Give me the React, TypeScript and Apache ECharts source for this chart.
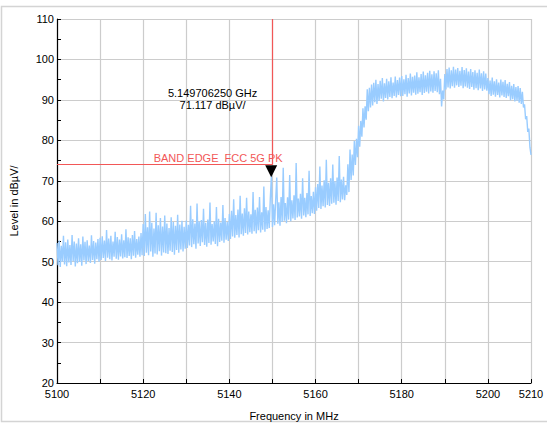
import React, { useEffect, useRef } from "react";
import * as echarts from "echarts";

// Frequency sweep (MHz) – one level reading every 0.25 MHz
const freqStart = 5100;
const freqStep = 0.25;

// Levels in dBµV, grouped per 10 MHz
const lv5100 = [54.6, 49.1, 55.2, 48.7, 53.9, 50.0, 56.4, 49.3, 54.8, 48.9, 55.5, 49.8, 54.1, 49.2, 56.6, 50.1, 55.0, 48.8, 54.5, 49.6, 55.8, 49.9, 54.3, 49.0, 56.2, 50.3, 54.9, 49.4, 55.3, 50.2, 54.0, 49.7, 56.5, 50.4, 55.1, 49.5, 54.7, 50.6, 55.6, 50.0];
const lv5110 = [55.9, 50.4, 56.3, 50.9, 55.2, 50.2, 57.8, 51.0, 55.7, 50.6, 56.4, 50.3, 55.0, 51.2, 57.4, 50.7, 56.1, 50.5, 55.5, 51.3, 56.8, 50.8, 55.3, 51.1, 58.0, 50.9, 56.0, 51.4, 55.8, 50.6, 56.6, 51.5, 57.6, 51.0, 55.6, 51.7, 56.2, 51.2, 57.1, 51.6];
const lv5120 = [59.3, 51.4, 61.8, 52.2, 58.5, 51.6, 62.4, 52.5, 59.6, 51.2, 58.2, 52.0, 62.1, 51.8, 59.0, 52.6, 60.8, 51.5, 58.7, 52.3, 61.4, 52.1, 59.4, 51.9, 58.3, 52.7, 61.0, 52.4, 59.8, 51.7, 58.9, 52.9, 61.6, 52.2, 59.2, 53.0, 60.1, 52.5, 58.6, 53.2];
const lv5130 = [60.2, 53.4, 59.1, 54.0, 63.8, 53.6, 60.5, 54.3, 59.4, 53.2, 64.4, 54.5, 59.9, 53.9, 60.3, 54.8, 63.1, 54.1, 59.6, 53.7, 60.4, 54.6, 64.6, 54.2, 59.3, 55.0, 60.0, 54.4, 63.5, 53.8, 60.6, 54.9, 59.7, 55.2, 64.0, 54.7, 60.8, 55.4, 59.8, 55.1];
const lv5140 = [61.8, 55.6, 62.6, 56.2, 65.4, 55.9, 61.5, 56.6, 62.9, 56.0, 66.3, 56.8, 61.9, 56.4, 63.2, 57.1, 65.8, 56.7, 62.4, 57.3, 61.7, 56.9, 67.2, 57.5, 62.8, 57.0, 63.4, 57.8, 66.0, 57.2, 62.2, 57.9, 68.6, 57.4, 63.5, 58.1, 62.7, 58.3, 65.6, 71.1];
const lv5150 = [58.6, 64.2, 59.0, 65.3, 70.8, 59.4, 64.7, 58.9, 66.0, 59.8, 73.2, 60.1, 64.5, 59.5, 65.9, 60.4, 71.4, 60.0, 65.2, 60.7, 66.4, 60.3, 74.4, 60.9, 65.6, 61.2, 66.8, 60.6, 70.6, 61.4, 65.8, 61.0, 67.0, 61.7, 72.5, 61.3, 66.2, 62.0, 67.3, 61.8];
const lv5160 = [68.4, 62.6, 69.2, 63.3, 73.5, 63.0, 68.8, 63.7, 70.1, 63.4, 75.2, 64.0, 69.5, 63.8, 70.6, 64.3, 74.0, 64.6, 69.9, 64.1, 70.8, 65.0, 76.1, 64.7, 70.3, 65.4, 71.0, 65.2, 68.9, 66.5, 74.1, 67.2, 77.7, 70.2, 76.5, 71.3, 79.8, 73.9, 80.4, 75.8];
const lv5170 = [83.6, 78.4, 84.8, 80.9, 87.9, 83.2, 88.4, 85.1, 92.6, 87.2, 93.0, 88.1, 93.8, 88.6, 94.2, 89.4, 95.0, 89.0, 93.9, 89.8, 94.7, 90.3, 95.4, 89.6, 94.1, 90.5, 95.2, 90.1, 94.6, 90.7, 95.6, 90.4, 94.3, 91.0, 95.8, 90.6, 94.9, 91.2, 95.5, 90.9];
const lv5180 = [95.9, 91.0, 95.1, 91.4, 96.2, 90.8, 95.4, 91.6, 96.5, 91.1, 95.7, 91.8, 96.0, 91.3, 96.8, 91.5, 95.6, 91.9, 96.4, 91.2, 97.0, 91.7, 96.1, 92.0, 96.7, 91.6, 97.2, 92.1, 96.3, 91.8, 97.1, 92.2, 96.6, 91.9, 97.3, 91.4, 95.2, 88.4, 92.3, 90.1];
const lv5190 = [96.4, 92.6, 97.6, 93.1, 98.0, 92.8, 97.3, 93.4, 98.2, 93.0, 97.5, 93.6, 97.9, 93.2, 97.2, 93.5, 98.1, 92.9, 97.4, 93.3, 97.8, 93.0, 97.0, 92.7, 97.6, 93.2, 96.9, 92.5, 97.3, 92.9, 96.7, 92.4, 97.5, 92.8, 96.6, 92.2, 97.1, 92.6, 96.5, 92.3];
const lv5200 = [95.4, 91.4, 94.8, 91.0, 95.5, 91.3, 94.6, 90.8, 95.1, 91.2, 94.3, 90.6, 95.0, 91.1, 94.5, 90.7, 94.9, 90.5, 94.0, 90.9, 94.4, 89.9, 93.5, 90.2, 93.9, 89.6, 93.2, 89.8, 93.4, 89.3, 92.9, 89.0, 92.0, 88.1, 88.9, 85.2, 86.0, 82.1, 82.9, 78.3, 76.4];

const levels = [...lv5100, ...lv5110, ...lv5120, ...lv5130, ...lv5140, ...lv5150, ...lv5160, ...lv5170, ...lv5180, ...lv5190, ...lv5200];

// Limit line and marker
const bandEdgeFreq = 5150;
const limitLevel = 74;
const limitLabel = "BAND EDGE  FCC 5G PK";
const markerFreq = 5149.70625;
const markerLevel = 71.117;
const markerText = ["5.149706250 GHz", "71.117 dBµV/"];

// Axes
const xMin = 5100;
const xMax = 5210;
const yMin = 20;
const yMax = 110;

export default function App() {
  const ref = useRef<HTMLDivElement>(null);
  useEffect(() => {
    if (!ref.current) return;
    const chart = echarts.init(ref.current, null, { renderer: "svg" });
    const data = levels.map((v, i) => [freqStart + i * freqStep, v]);
    const font = "Liberation Sans, Arial, sans-serif";
    const red = "#f25757";
    chart.setOption({
      animation: false,
      backgroundColor: "#ffffff",
      textStyle: { fontFamily: font },
      graphic: [
        {
          type: "rect",
          shape: { x: 1.5, y: 6.5, width: 560, height: 415 },
          style: { fill: "none", stroke: "#d4d4d4", lineWidth: 1.5 },
          silent: true,
          z: -1,
        },
      ],
      grid: { left: 53, right: 16, top: 19, bottom: 42 },
      xAxis: {
        type: "value",
        min: xMin,
        max: xMax,
        interval: 10,
        name: "Frequency in MHz",
        nameLocation: "middle",
        nameGap: 27,
        nameTextStyle: { color: "#000", fontSize: 11, fontFamily: font },
        axisLine: { show: true, onZero: false, lineStyle: { color: "#000", width: 1.2 } },
        axisTick: { show: true, inside: true, length: 4, lineStyle: { color: "#000" } },
        axisLabel: {
          color: "#000",
          fontSize: 11,
          fontFamily: font,
          margin: 5,
          showMaxLabel: true,
          formatter: (v: number) => (v % 20 === 0 || v === xMax ? String(v) : ""),
        },
        splitLine: { show: true, lineStyle: { color: "#cccccc", width: 1.2 } },
      },
      yAxis: {
        type: "value",
        min: yMin,
        max: yMax,
        interval: 10,
        name: "Level in dBµV/",
        nameLocation: "middle",
        nameGap: 38,
        nameTextStyle: { color: "#000", fontSize: 11, fontFamily: font },
        axisLine: { show: true, onZero: false, lineStyle: { color: "#000", width: 1.2 } },
        axisTick: { show: true, inside: true, length: 4, lineStyle: { color: "#000" } },
        minorTick: { show: true, splitNumber: 2, length: 4, lineStyle: { color: "#000" } },
        axisLabel: { color: "#000", fontSize: 11, fontFamily: font, margin: 3 },
        splitLine: { show: true, lineStyle: { color: "#cccccc", width: 1.2 } },
      },
      series: [
        {
          type: "line",
          data,
          showSymbol: false,
          symbol: "none",
          lineStyle: { color: "#99ccff", width: 1.4 },
          z: 2,
          markLine: {
            silent: true,
            symbol: "none",
            animation: false,
            lineStyle: { color: red, width: 1.2, type: "solid" },
            label: { show: false },
            data: [
              [{ coord: [xMin, limitLevel] }, { coord: [bandEdgeFreq, limitLevel] }],
              [{ coord: [bandEdgeFreq, limitLevel] }, { coord: [bandEdgeFreq, yMax] }],
            ],
          },
          markPoint: {
            silent: true,
            animation: false,
            data: [
              {
                coord: [markerFreq, markerLevel],
                symbol: "triangle",
                symbolRotate: 180,
                symbolSize: [12, 12],
                symbolOffset: [0, -5],
                itemStyle: { color: "#000" },
                label: { show: false },
              },
              {
                coord: [5137.4, limitLevel],
                symbol: "circle",
                symbolSize: 0,
                label: {
                  show: true,
                  position: "top",
                  distance: 1,
                  formatter: limitLabel,
                  color: red,
                  fontSize: 11,
                  fontFamily: font,
                },
              },
              {
                coord: [5136.1, 90.2],
                symbol: "circle",
                symbolSize: 0,
                label: {
                  show: true,
                  position: "inside",
                  formatter: markerText.join("\n"),
                  color: "#000",
                  fontSize: 11,
                  lineHeight: 12,
                  align: "center",
                  fontFamily: font,
                },
              },
            ],
          },
        },
      ],
    });
    return () => chart.dispose();
  }, []);
  return (
    <div
      ref={ref}
      style={{ position: "fixed", left: 0, top: 0, width: 547, height: 426 }}
    />
  );
}
